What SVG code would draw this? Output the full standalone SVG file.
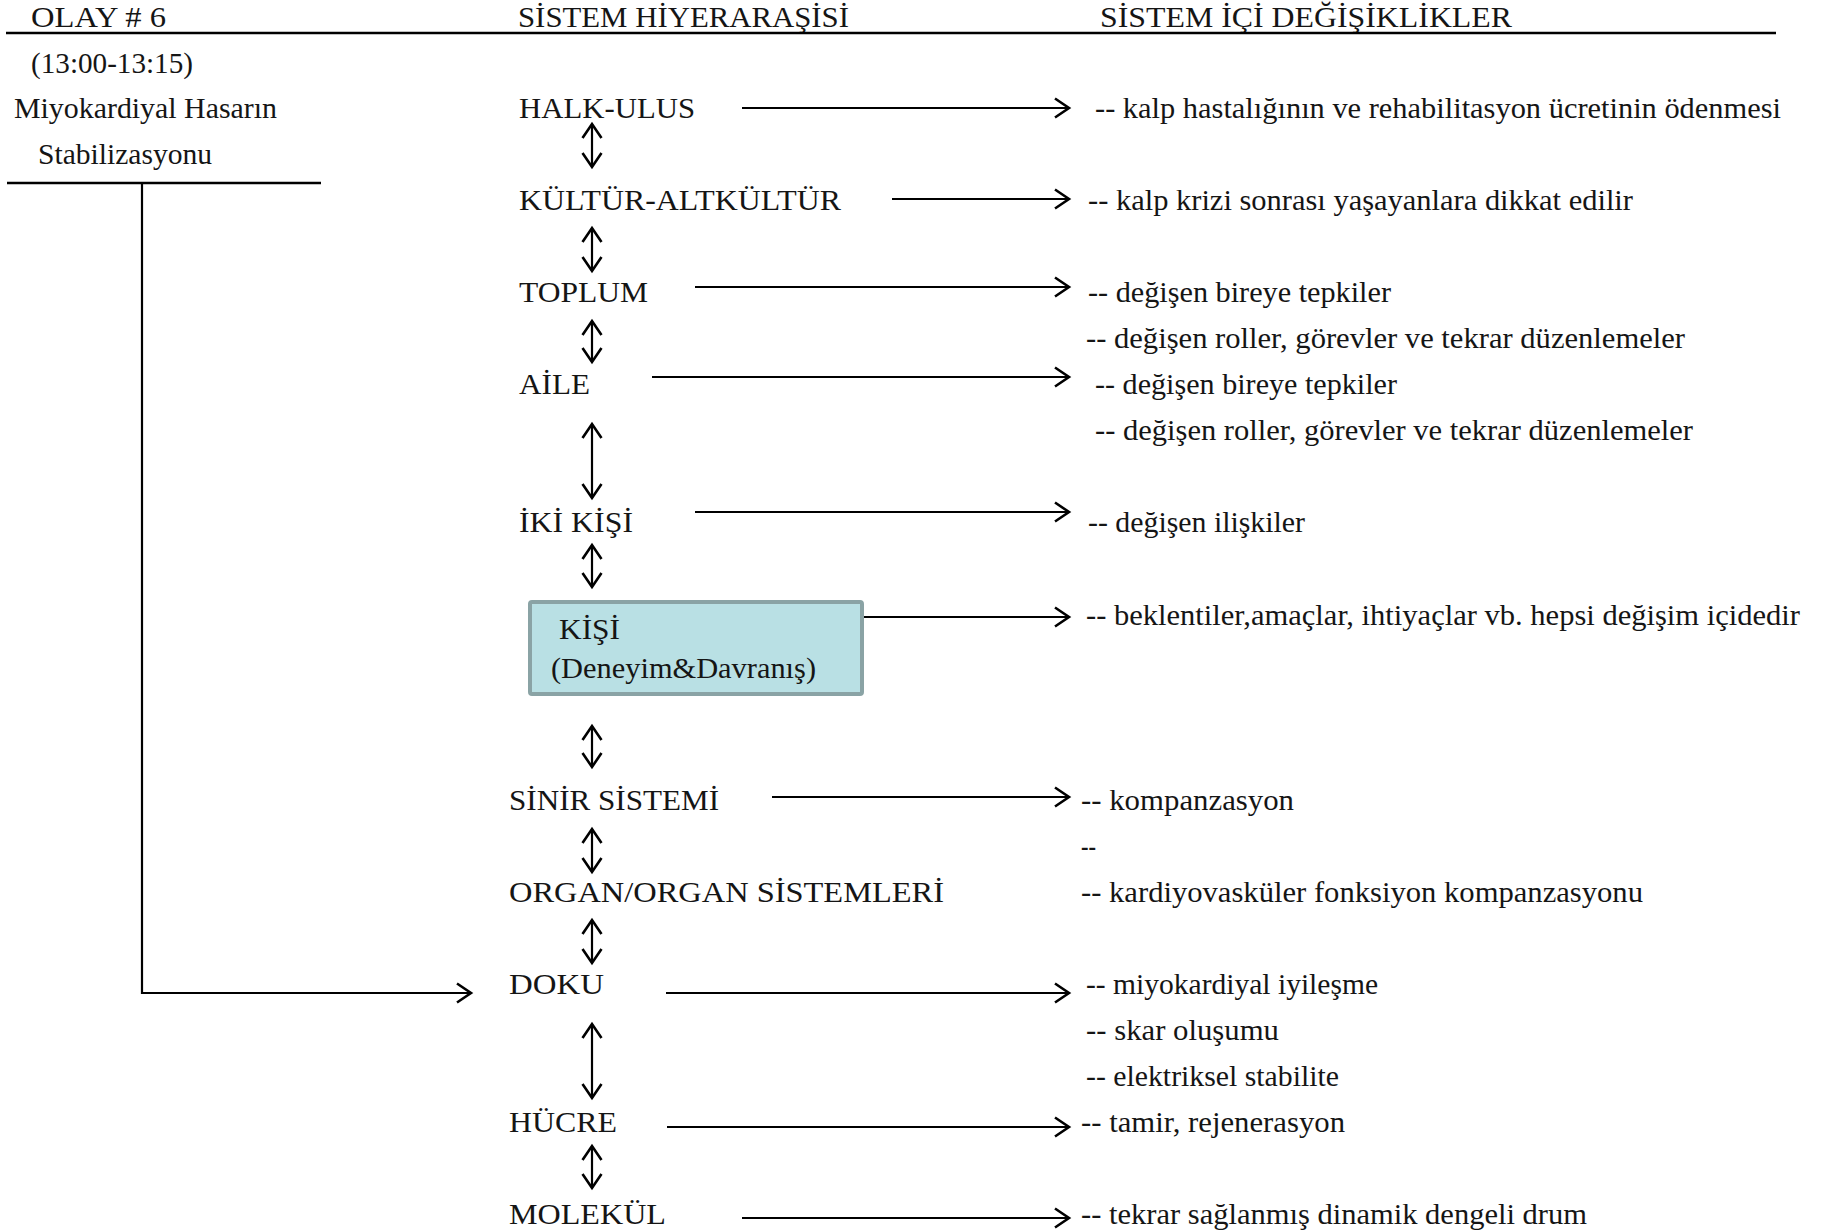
<svg xmlns="http://www.w3.org/2000/svg" width="1823" height="1232" viewBox="0 0 1823 1232">
  <style>
    text { font-family: "Liberation Serif", "Times New Roman", serif; font-size: 30px; fill: #151515; }
    .rule { stroke: #000; stroke-width: 2.5; fill: none; }
    .conn { stroke: #000; stroke-width: 2.2; fill: none; }
    .box { fill: #b9e0e4; stroke: #8aa3a5; stroke-width: 4; }
  </style>
  <defs>
    <marker id="chev" markerUnits="userSpaceOnUse" markerWidth="22" markerHeight="26" refX="16" refY="12" orient="auto-start-reverse">
      <path d="M2,2.5 L16,12 L2,21.5" fill="none" stroke="#000" stroke-width="2.6"/>
    </marker>
  </defs>

  <rect width="1823" height="1232" fill="#fff"/>

  <!-- column headings -->
  <g id="headings">
    <text x="31" y="27" textLength="135" lengthAdjust="spacingAndGlyphs">OLAY # 6</text>
    <text x="518" y="27" textLength="331" lengthAdjust="spacingAndGlyphs">SİSTEM HİYERARAŞİSİ</text>
    <text x="1100" y="27" textLength="412" lengthAdjust="spacingAndGlyphs">SİSTEM İÇİ DEĞİŞİKLİKLER</text>
    <line class="rule" x1="6" y1="33" x2="1776" y2="33"/>
  </g>

  <!-- event description -->
  <g id="event">
    <text x="31" y="73" textLength="162" lengthAdjust="spacingAndGlyphs">(13:00-13:15)</text>
    <text x="14" y="118" textLength="263" lengthAdjust="spacingAndGlyphs">Miyokardiyal Hasarın</text>
    <text x="38" y="164" textLength="174" lengthAdjust="spacingAndGlyphs">Stabilizasyonu</text>
    <line class="rule" x1="7" y1="183" x2="321" y2="183"/>
  </g>

  <!-- hierarchy levels -->
  <g id="halk-ulus"><text x="519" y="118" textLength="176" lengthAdjust="spacingAndGlyphs">HALK-ULUS</text></g>
  <g id="kultur"><text x="519" y="210" textLength="322" lengthAdjust="spacingAndGlyphs">KÜLTÜR-ALTKÜLTÜR</text></g>
  <g id="toplum"><text x="519" y="302" textLength="129" lengthAdjust="spacingAndGlyphs">TOPLUM</text></g>
  <g id="aile"><text x="519" y="394" textLength="71" lengthAdjust="spacingAndGlyphs">AİLE</text></g>
  <g id="iki-kisi"><text x="519" y="532" textLength="114" lengthAdjust="spacingAndGlyphs">İKİ KİŞİ</text></g>
  <g id="kisi">
    <rect class="box" x="530" y="602" width="332" height="92" rx="2"/>
    <text x="559" y="639" textLength="61" lengthAdjust="spacingAndGlyphs">KİŞİ</text>
    <text x="551" y="678" textLength="265" lengthAdjust="spacingAndGlyphs">(Deneyim&amp;Davranış)</text>
  </g>
  <g id="sinir"><text x="509" y="810" textLength="210" lengthAdjust="spacingAndGlyphs">SİNİR SİSTEMİ</text></g>
  <g id="organ"><text x="509" y="902" textLength="435" lengthAdjust="spacingAndGlyphs">ORGAN/ORGAN SİSTEMLERİ</text></g>
  <g id="doku"><text x="509" y="994" textLength="95" lengthAdjust="spacingAndGlyphs">DOKU</text></g>
  <g id="hucre"><text x="509" y="1132" textLength="108" lengthAdjust="spacingAndGlyphs">HÜCRE</text></g>
  <g id="molekul"><text x="509" y="1224" textLength="157" lengthAdjust="spacingAndGlyphs">MOLEKÜL</text></g>

  <!-- changes within each level -->
  <g id="changes">
    <text x="1095" y="118" textLength="686" lengthAdjust="spacingAndGlyphs">-- kalp hastalığının ve rehabilitasyon ücretinin ödenmesi</text>
    <text x="1088" y="210" textLength="545" lengthAdjust="spacingAndGlyphs">--  kalp krizi sonrası yaşayanlara dikkat edilir</text>
    <text x="1088" y="302" textLength="303" lengthAdjust="spacingAndGlyphs">-- değişen bireye tepkiler</text>
    <text x="1086" y="348" textLength="599" lengthAdjust="spacingAndGlyphs">-- değişen roller, görevler ve tekrar düzenlemeler</text>
    <text x="1095" y="394" textLength="302" lengthAdjust="spacingAndGlyphs">-- değişen bireye tepkiler</text>
    <text x="1095" y="440" textLength="598" lengthAdjust="spacingAndGlyphs">-- değişen roller, görevler ve tekrar düzenlemeler</text>
    <text x="1088" y="532" textLength="217" lengthAdjust="spacingAndGlyphs">-- değişen ilişkiler</text>
    <text x="1086" y="625" textLength="714" lengthAdjust="spacingAndGlyphs">--  beklentiler,amaçlar, ihtiyaçlar vb. hepsi değişim içidedir</text>
    <text x="1081" y="810" textLength="213" lengthAdjust="spacingAndGlyphs">-- kompanzasyon</text>
    <text x="1081" y="856" textLength="15" lengthAdjust="spacingAndGlyphs">--</text>
    <text x="1081" y="902" textLength="562" lengthAdjust="spacingAndGlyphs">-- kardiyovasküler fonksiyon kompanzasyonu</text>
    <text x="1086" y="994" textLength="292" lengthAdjust="spacingAndGlyphs">-- miyokardiyal iyileşme</text>
    <text x="1086" y="1040" textLength="193" lengthAdjust="spacingAndGlyphs">-- skar oluşumu</text>
    <text x="1086" y="1086" textLength="253" lengthAdjust="spacingAndGlyphs">-- elektriksel stabilite</text>
    <text x="1081" y="1132" textLength="264" lengthAdjust="spacingAndGlyphs">-- tamir, rejenerasyon</text>
    <text x="1081" y="1224" textLength="506" lengthAdjust="spacingAndGlyphs">-- tekrar sağlanmış dinamik dengeli drum</text>
  </g>

  <!-- connectors -->
  <g id="connectors" class="conn">
    <!-- level to changes -->
    <line x1="742" y1="108" x2="1069" y2="108" marker-end="url(#chev)"/>
    <line x1="892" y1="199" x2="1069" y2="199" marker-end="url(#chev)"/>
    <line x1="695" y1="287" x2="1069" y2="287" marker-end="url(#chev)"/>
    <line x1="652" y1="377" x2="1069" y2="377" marker-end="url(#chev)"/>
    <line x1="695" y1="512" x2="1069" y2="512" marker-end="url(#chev)"/>
    <line x1="864" y1="617" x2="1069" y2="617" marker-end="url(#chev)"/>
    <line x1="772" y1="797" x2="1069" y2="797" marker-end="url(#chev)"/>
    <line x1="666" y1="993" x2="1069" y2="993" marker-end="url(#chev)"/>
    <line x1="667" y1="1127" x2="1069" y2="1127" marker-end="url(#chev)"/>
    <line x1="742" y1="1218" x2="1069" y2="1218" marker-end="url(#chev)"/>

    <!-- between levels -->
    <line x1="592" y1="124" x2="592" y2="167" marker-start="url(#chev)" marker-end="url(#chev)"/>
    <line x1="592" y1="228" x2="592" y2="271" marker-start="url(#chev)" marker-end="url(#chev)"/>
    <line x1="592" y1="321" x2="592" y2="362" marker-start="url(#chev)" marker-end="url(#chev)"/>
    <line x1="592" y1="424" x2="592" y2="498" marker-start="url(#chev)" marker-end="url(#chev)"/>
    <line x1="592" y1="545" x2="592" y2="587" marker-start="url(#chev)" marker-end="url(#chev)"/>
    <line x1="592" y1="726" x2="592" y2="767" marker-start="url(#chev)" marker-end="url(#chev)"/>
    <line x1="592" y1="829" x2="592" y2="872" marker-start="url(#chev)" marker-end="url(#chev)"/>
    <line x1="592" y1="920" x2="592" y2="963" marker-start="url(#chev)" marker-end="url(#chev)"/>
    <line x1="592" y1="1024" x2="592" y2="1098" marker-start="url(#chev)" marker-end="url(#chev)"/>
    <line x1="592" y1="1146" x2="592" y2="1188" marker-start="url(#chev)" marker-end="url(#chev)"/>

    <!-- event entry point -->
    <polyline points="142,183 142,993 471,993" marker-end="url(#chev)"/>
  </g>
</svg>
